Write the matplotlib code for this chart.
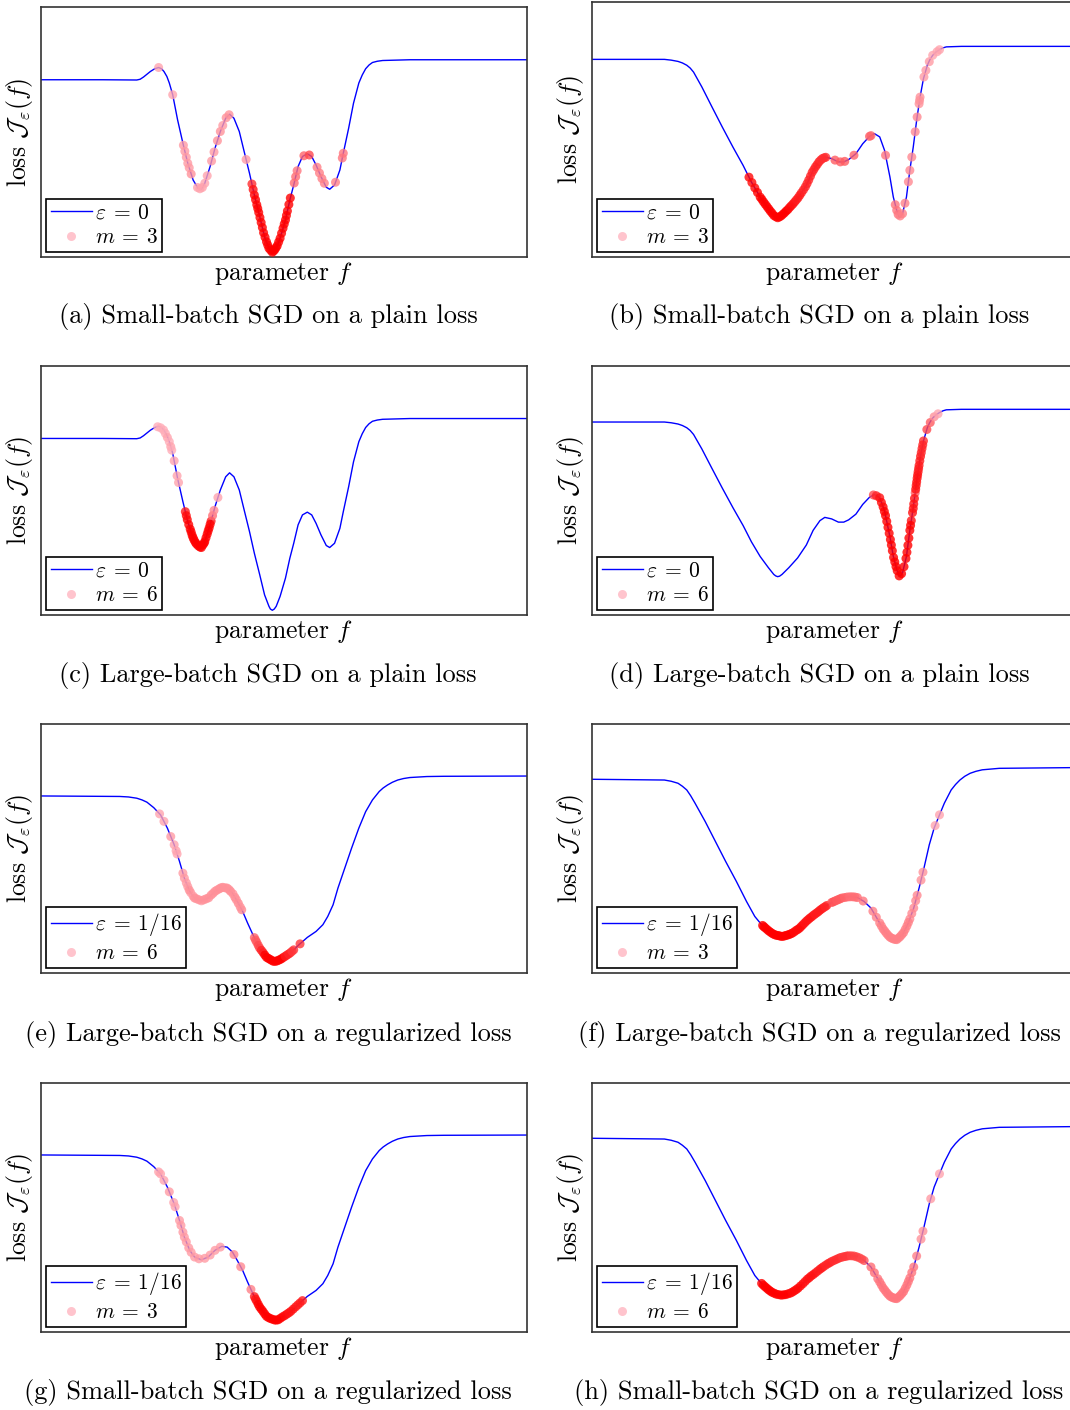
import matplotlib
matplotlib.use('Agg')
import matplotlib.pyplot as plt
from matplotlib.colors import LinearSegmentedColormap
from matplotlib.lines import Line2D

plt.rcParams['font.family'] = 'serif'
plt.rcParams['font.serif'] = ['cmr10']
plt.rcParams['mathtext.fontset'] = 'cm'
plt.rcParams['axes.formatter.use_mathtext'] = True

# ---- loss curves (parameter f on 0..10, loss scaled to 0..1) ----
# plain loss, first landscape (panels a, c)
plain1_f = [0, 1.27, 1.97, 2.04, 2.11, 2.18, 2.25, 2.34, 2.42, 2.48, 2.53, 2.59, 2.64, 2.71, 2.81, 2.92,
            3.02, 3.13, 3.23, 3.30, 3.37, 3.48, 3.58, 3.69, 3.80, 3.88, 3.97, 4.08, 4.18, 4.29, 4.39,
            4.50, 4.60, 4.69, 4.72, 4.76, 4.80, 4.84, 4.92, 5.03, 5.12, 5.20, 5.29, 5.38, 5.48, 5.57,
            5.66, 5.76, 5.87, 5.94, 6.04, 6.15, 6.22, 6.33, 6.43, 6.54, 6.61, 6.68, 6.75, 6.82, 6.92,
            7.03, 7.59, 10]
plain1_J = [0.709, 0.709, 0.708, 0.711, 0.720, 0.731, 0.742, 0.753, 0.758, 0.753, 0.742, 0.722, 0.696, 0.649,
            0.549, 0.455, 0.375, 0.308, 0.275, 0.271, 0.295, 0.362, 0.435, 0.502, 0.555, 0.571, 0.555, 0.502,
            0.422, 0.335, 0.248, 0.162, 0.081, 0.035, 0.024, 0.019, 0.024, 0.035, 0.075, 0.148, 0.228, 0.288,
            0.362, 0.402, 0.413, 0.402, 0.368, 0.322, 0.279, 0.271, 0.288, 0.348, 0.415, 0.515, 0.615, 0.696,
            0.728, 0.753, 0.768, 0.778, 0.783, 0.786, 0.789, 0.789]

# plain loss, second landscape (panels b, d)
plain2_f = [0, 1.49, 1.63, 1.77, 1.86, 1.95, 2.02, 2.09, 2.26, 2.47, 2.68, 2.90, 3.11, 3.28, 3.46, 3.63,
            3.74, 3.78, 3.82, 3.86, 3.91, 4.05, 4.23, 4.41, 4.55, 4.69, 4.79, 4.93, 5.07, 5.18, 5.28,
            5.43, 5.57, 5.71, 5.81, 5.92, 6.02, 6.13, 6.20, 6.27, 6.32, 6.35, 6.39, 6.47, 6.54, 6.61,
            6.68, 6.75, 6.82, 6.90, 6.95, 7.01, 7.08, 7.15, 7.22, 7.29, 7.60, 10]
plain2_J = [0.775, 0.775, 0.772, 0.767, 0.761, 0.752, 0.741, 0.725, 0.667, 0.588, 0.510, 0.431, 0.359, 0.294,
            0.235, 0.190, 0.163, 0.157, 0.154, 0.156, 0.163, 0.190, 0.229, 0.281, 0.340, 0.379, 0.392, 0.386,
            0.373, 0.373, 0.382, 0.405, 0.444, 0.473, 0.484, 0.471, 0.418, 0.314, 0.235, 0.183, 0.157, 0.158,
            0.170, 0.235, 0.340, 0.431, 0.536, 0.627, 0.699, 0.752, 0.773, 0.791, 0.804, 0.813, 0.820, 0.824,
            0.826, 0.826]

# regularized loss, first landscape (panels e, g)
reg1_f = [0, 1.62, 1.80, 1.97, 2.08, 2.18, 2.32, 2.46, 2.60, 2.74, 2.85, 2.95, 3.06, 3.16, 3.30, 3.44,
          3.58, 3.72, 3.83, 3.94, 4.04, 4.15, 4.25, 4.36, 4.50, 4.64, 4.78, 4.88, 5.02, 5.17, 5.31,
          5.48, 5.66, 5.80, 5.90, 6.01, 6.11, 6.25, 6.39, 6.54, 6.68, 6.82, 6.96, 7.04, 7.13, 7.23,
          7.34, 7.46, 7.59, 7.94, 8.29, 10]
reg1_J = [0.711, 0.709, 0.707, 0.702, 0.695, 0.686, 0.664, 0.635, 0.582, 0.515, 0.448, 0.381, 0.328, 0.301,
          0.290, 0.301, 0.328, 0.344, 0.341, 0.321, 0.287, 0.247, 0.201, 0.154, 0.100, 0.063, 0.047, 0.049,
          0.067, 0.087, 0.114, 0.143, 0.167, 0.194, 0.227, 0.274, 0.341, 0.421, 0.501, 0.582, 0.648, 0.695,
          0.729, 0.743, 0.755, 0.766, 0.775, 0.781, 0.785, 0.789, 0.790, 0.791]

# regularized loss, second landscape (panels f, h)
reg2_f = [0, 1.49, 1.63, 1.77, 1.86, 1.95, 2.03, 2.12, 2.33, 2.54, 2.75, 2.97, 3.18, 3.35, 3.46, 3.60,
          3.74, 3.91, 4.09, 4.27, 4.44, 4.62, 4.79, 4.97, 5.14, 5.32, 5.46, 5.60, 5.74, 5.88, 6.02,
          6.16, 6.27, 6.39, 6.51, 6.62, 6.73, 6.83, 6.94, 7.04, 7.15, 7.25, 7.39, 7.48, 7.57, 7.67,
          7.78, 7.90, 8.03, 8.38, 10]
reg2_J = [0.778, 0.775, 0.770, 0.762, 0.750, 0.735, 0.712, 0.682, 0.608, 0.528, 0.448, 0.368, 0.287, 0.227,
          0.201, 0.174, 0.154, 0.147, 0.156, 0.180, 0.214, 0.241, 0.267, 0.287, 0.301, 0.307, 0.303, 0.287,
          0.261, 0.214, 0.167, 0.138, 0.134, 0.154, 0.201, 0.261, 0.341, 0.421, 0.515, 0.582, 0.635, 0.682,
          0.735, 0.757, 0.775, 0.790, 0.802, 0.810, 0.816, 0.822, 0.825]

# ---- SGD iterates: position, loss, and shade (0 = pink, 1 = red) ----
a_f = [2.42, 2.71, 2.93, 2.96, 2.99, 3.02, 3.05, 3.09, 3.22, 3.27, 3.32, 3.37, 3.42, 3.51, 3.56, 3.63, 3.69,
       3.74, 3.81, 3.87, 4.22, 4.34, 4.39, 4.44, 4.48, 4.53, 4.58, 4.64, 4.69, 4.76, 4.81, 4.86, 4.92, 4.98,
       5.03, 5.07, 5.13, 5.21, 5.24, 5.27, 5.41, 5.52, 5.68, 5.73, 5.78, 5.83, 6.06, 6.20, 6.22,
       4.365, 4.415, 4.46, 4.505, 4.555, 4.61, 4.665, 4.725, 4.785, 4.835, 4.89, 4.95, 5.005, 5.05, 5.10]
a_J = [0.758, 0.649, 0.447, 0.423, 0.399, 0.375, 0.357, 0.332, 0.278, 0.273, 0.278, 0.295, 0.325, 0.384, 0.420,
       0.465, 0.502, 0.526, 0.557, 0.569, 0.390, 0.292, 0.248, 0.209, 0.178, 0.138, 0.097, 0.061, 0.035, 0.019,
       0.029, 0.045, 0.075, 0.115, 0.148, 0.184, 0.236, 0.296, 0.321, 0.345, 0.405, 0.408, 0.359, 0.336, 0.314,
       0.295, 0.299, 0.396, 0.415,
       0.270, 0.229, 0.194, 0.158, 0.118, 0.079, 0.048, 0.027, 0.024, 0.037, 0.060, 0.095, 0.132, 0.166, 0.210]
a_t = [0.1, 0.1, 0.15, 0.15, 0.15, 0.15, 0.15, 0.2, 0.1, 0.1, 0.1, 0.1, 0.1, 0.15, 0.15, 0.2, 0.2, 0.15, 0.2,
       0.2, 0.15, 0.75, 1, 1, 1, 1, 1, 1, 1, 1, 1, 1, 1, 1, 1, 1, 1, 0.4, 0.4, 0.35, 0.45, 0.6, 0.3, 0.3,
       0.3, 0.3, 0.3, 0.35, 0.35,
       0.9, 1, 1, 1, 1, 1, 1, 1, 1, 1, 1, 1, 1, 1, 1]

b_f = [3.23, 3.35, 3.46, 3.53, 3.60, 3.67, 3.74, 3.82, 3.89, 3.96, 4.03, 4.10, 4.17, 4.24, 4.31, 4.39, 4.46,
       4.53, 4.60, 4.67, 4.74, 4.81, 5.00, 5.11, 5.20, 5.39, 5.71, 5.74, 6.04, 6.24, 6.27, 6.30, 6.34, 6.39,
       6.44, 6.51, 6.54, 6.58, 6.65, 6.69, 6.73, 6.74, 6.75, 6.83, 6.87, 6.94, 7.01, 7.10, 7.15,
       3.29, 3.405, 3.495, 3.565, 3.635, 3.705, 3.78, 3.855, 3.925, 3.995, 4.065, 4.135, 4.205, 4.275,
       4.35, 4.425, 4.495, 4.565, 4.635, 4.705, 4.775]
b_J = [0.313, 0.271, 0.235, 0.216, 0.198, 0.180, 0.163, 0.154, 0.161, 0.173, 0.186, 0.201, 0.216, 0.232, 0.252,
       0.275, 0.302, 0.332, 0.354, 0.373, 0.386, 0.391, 0.380, 0.373, 0.375, 0.399, 0.473, 0.476, 0.399, 0.205,
       0.183, 0.167, 0.161, 0.170, 0.211, 0.295, 0.340, 0.392, 0.491, 0.549, 0.601, 0.614, 0.627, 0.706, 0.732,
       0.766, 0.791, 0.805, 0.813,
       0.292, 0.253, 0.226, 0.207, 0.189, 0.172, 0.158, 0.157, 0.167, 0.180, 0.194, 0.208, 0.224, 0.242,
       0.263, 0.288, 0.317, 0.343, 0.363, 0.380, 0.389]
b_t = [0.95, 0.95, 1, 1, 1, 1, 1, 1, 1, 1, 1, 0.9, 0.85, 0.85, 0.8, 0.8, 0.8, 0.8, 0.8, 0.8, 0.75, 0.75,
       0.5, 0.5, 0.5, 0.45, 0.45, 0.45, 0.35, 0.35, 0.35, 0.35, 0.3, 0.3, 0.3, 0.25, 0.25, 0.25, 0.25, 0.25,
       0.2, 0.2, 0.2, 0.15, 0.15, 0.15, 0.1, 0.1, 0.1,
       0.95, 1, 1, 1, 1, 1, 1, 1, 1, 1, 0.95, 0.9, 0.85, 0.85, 0.8, 0.8, 0.8, 0.8, 0.8, 0.75, 0.75]

c_f = [2.40, 2.46, 2.52, 2.56, 2.60, 2.64, 2.67, 2.69, 2.74, 2.80, 2.83, 2.97, 3.01, 3.04, 3.07, 3.11, 3.15,
       3.20, 3.27, 3.33, 3.37, 3.42, 3.46, 3.50, 3.53, 3.56, 3.64,
       2.99, 3.09, 3.13, 3.175, 3.235, 3.30, 3.355, 3.395, 3.44, 3.48]
c_J = [0.756, 0.752, 0.743, 0.729, 0.713, 0.696, 0.676, 0.662, 0.619, 0.559, 0.532, 0.415, 0.383, 0.363, 0.345,
       0.320, 0.301, 0.285, 0.273, 0.281, 0.295, 0.325, 0.350, 0.377, 0.399, 0.420, 0.472,
       0.399, 0.333, 0.310, 0.292, 0.278, 0.271, 0.288, 0.310, 0.338, 0.364]
c_t = [0.05, 0.05, 0.05, 0.05, 0.1, 0.05, 0.1, 0.05, 0.1, 0.1, 0.1, 0.85, 1, 1, 1, 1, 1, 1, 1, 1, 1, 1, 1,
       0.85, 0.4, 0.25, 0.1,
       0.95, 1, 1, 1, 1, 1, 1, 1, 1, 1]

d_f = [5.79, 5.85, 5.92, 5.99, 6.04, 6.065, 6.09, 6.115, 6.14, 6.16, 6.18, 6.205, 6.23, 6.255, 6.28, 6.32,
       6.37, 6.42, 6.46, 6.48, 6.50, 6.52, 6.54, 6.57, 6.595, 6.62, 6.65, 6.67, 6.69, 6.71, 6.73, 6.76, 6.79,
       6.82, 6.89, 6.96, 7.04, 7.12,
       5.955, 6.015, 6.555, 6.61, 6.635, 6.66, 6.68, 6.70, 6.72, 6.745, 6.775, 6.805]
d_J = [0.482, 0.479, 0.471, 0.434, 0.399, 0.376, 0.352, 0.328, 0.303, 0.281, 0.258, 0.231, 0.213, 0.194, 0.178,
       0.157, 0.166, 0.194, 0.227, 0.252, 0.280, 0.309, 0.340, 0.379, 0.411, 0.446, 0.491, 0.520, 0.549, 0.575,
       0.601, 0.637, 0.668, 0.699, 0.745, 0.773, 0.796, 0.808,
       0.452, 0.416, 0.360, 0.428, 0.468, 0.505, 0.534, 0.562, 0.588, 0.619, 0.652, 0.683]
d_t = [0.6, 0.8, 0.9, 1, 1, 1, 1, 1, 1, 1, 1, 1, 1, 1, 1, 1, 1, 1, 1, 1, 1, 1, 1, 0.9, 0.9, 0.9, 0.5, 0.9,
       0.9, 0.85, 0.85, 0.85, 0.8, 0.75, 0.6, 0.5, 0.2, 0.1,
       0.95, 1, 1, 0.9, 0.9, 0.9, 0.9, 0.9, 0.85, 0.85, 0.8, 0.8]

e_f = [2.44, 2.53, 2.67, 2.74, 2.78, 2.80, 2.92, 2.95, 2.99, 3.02, 3.08, 3.13, 3.20, 3.30, 3.40, 3.50, 3.58,
       3.67, 3.74, 3.83, 3.90, 3.99, 4.06, 4.13, 4.39, 4.44, 4.50, 4.57, 4.64, 4.71, 4.78, 4.85, 4.92, 4.99,
       5.06, 5.13, 5.20, 5.33, 3.05, 3.16, 3.25, 3.35, 3.45, 3.54, 3.62, 3.70, 3.79, 3.87, 3.95, 4.02, 4.10,
       4.415, 4.47, 4.535, 4.605, 4.675, 4.745, 4.815, 4.885, 4.955, 5.025, 5.095, 5.165]
e_J = [0.639, 0.609, 0.548, 0.515, 0.491, 0.478, 0.401, 0.381, 0.362, 0.347, 0.323, 0.309, 0.298, 0.290, 0.298,
       0.313, 0.328, 0.338, 0.344, 0.341, 0.328, 0.304, 0.280, 0.254, 0.142, 0.123, 0.100, 0.082, 0.063, 0.055,
       0.047, 0.048, 0.054, 0.063, 0.072, 0.081, 0.093, 0.117, 0.333, 0.301, 0.294, 0.294, 0.302, 0.320, 0.333,
       0.342, 0.342, 0.335, 0.318, 0.294, 0.265,
       0.132, 0.111, 0.091, 0.072, 0.059, 0.051, 0.047, 0.051, 0.058, 0.067, 0.076, 0.087]
e_t = [0.1, 0.1, 0.15, 0.1, 0.1, 0.1, 0.15, 0.15, 0.15, 0.15, 0.15, 0.15, 0.15, 0.15, 0.2, 0.2, 0.2, 0.25,
       0.25, 0.25, 0.25, 0.25, 0.25, 0.25, 0.45, 0.5, 0.7, 0.9, 1, 1, 1, 1, 1, 0.9, 0.8, 0.75, 0.7, 0.7,
       0.2, 0.2, 0.2, 0.2, 0.2, 0.2, 0.2, 0.2, 0.2, 0.2, 0.2, 0.2, 0.2,
       0.5, 0.6, 0.8, 1, 1, 1, 1, 1, 1, 0.85, 0.8, 0.7]

f_f = [3.51, 3.56, 3.63, 3.70, 3.77, 3.84, 3.91, 3.98, 4.05, 4.12, 4.20, 4.27, 4.34, 4.41, 4.48, 4.55, 4.62,
       4.69, 4.76, 4.83, 4.93, 5.00, 5.07, 5.14, 5.25, 5.36, 5.46, 5.58, 5.78, 5.85, 5.92, 5.99, 6.06, 6.13,
       6.20, 6.27, 6.34, 6.41, 6.48, 6.54, 6.58, 6.62, 6.66, 6.69, 6.77, 6.81, 7.06, 7.15,
       3.535, 3.595, 3.665, 3.735, 3.805, 3.875, 3.945, 4.015, 4.085, 4.16, 4.235, 4.305, 4.375, 4.445,
       4.515, 4.585, 4.655, 4.725, 4.795,
       4.965, 5.035, 5.105, 5.195, 5.305, 5.41, 5.955, 6.025, 6.095, 6.165, 6.235, 6.305, 6.375, 6.445, 6.51]
f_J = [0.191, 0.182, 0.170, 0.160, 0.153, 0.150, 0.147, 0.150, 0.154, 0.160, 0.171, 0.180, 0.194, 0.208, 0.220,
       0.231, 0.241, 0.252, 0.262, 0.271, 0.283, 0.289, 0.295, 0.301, 0.305, 0.306, 0.303, 0.289, 0.248, 0.224,
       0.201, 0.177, 0.159, 0.144, 0.137, 0.134, 0.146, 0.162, 0.189, 0.217, 0.239, 0.261, 0.290, 0.312, 0.373,
       0.405, 0.592, 0.635,
       0.186, 0.176, 0.165, 0.156, 0.151, 0.148, 0.148, 0.152, 0.157, 0.165, 0.175, 0.187, 0.201, 0.214,
       0.225, 0.236, 0.246, 0.257, 0.266,
       0.286, 0.292, 0.298, 0.303, 0.306, 0.305, 0.189, 0.168, 0.151, 0.140, 0.135, 0.140, 0.154, 0.175, 0.203]
f_t = [1, 1, 1, 1, 1, 1, 1, 1, 1, 0.95, 0.95, 0.95, 0.9, 0.9, 0.9, 0.85, 0.85, 0.85, 0.8, 0.8, 0.55, 0.5,
       0.5, 0.45, 0.4, 0.4, 0.4, 0.35, 0.3, 0.3, 0.3, 0.3, 0.3, 0.3, 0.3, 0.3, 0.3, 0.3, 0.3, 0.25, 0.25,
       0.25, 0.25, 0.25, 0.2, 0.2, 0.1, 0.1,
       1, 1, 1, 1, 1, 1, 1, 1, 1, 0.95, 0.95, 0.95, 0.9, 0.9, 0.9, 0.85, 0.85, 0.85, 0.8,
       0.55, 0.5, 0.5, 0.45, 0.4, 0.4, 0.3, 0.3, 0.3, 0.3, 0.3, 0.3, 0.3, 0.3, 0.3]

g_f = [2.42, 2.46, 2.53, 2.64, 2.73, 2.76, 2.85, 2.88, 2.92, 2.95, 2.99, 3.04, 3.09, 3.16, 3.25, 3.37, 3.48,
       3.58, 3.69, 3.97, 4.11, 4.32, 4.39, 4.44, 4.50, 4.57, 4.64, 4.72, 4.81, 4.88, 4.97, 5.06, 5.14, 5.24,
       5.33, 5.38,
       4.415, 4.47, 4.535, 4.605, 4.68, 4.765, 4.845, 4.925, 5.015, 5.10, 5.19, 5.285]
g_J = [0.643, 0.635, 0.609, 0.563, 0.520, 0.503, 0.448, 0.428, 0.401, 0.381, 0.362, 0.338, 0.320, 0.301, 0.294,
       0.296, 0.309, 0.328, 0.341, 0.311, 0.262, 0.171, 0.142, 0.123, 0.100, 0.082, 0.063, 0.054, 0.048, 0.049,
       0.061, 0.072, 0.083, 0.101, 0.117, 0.126,
       0.132, 0.111, 0.091, 0.072, 0.058, 0.051, 0.048, 0.055, 0.066, 0.077, 0.092, 0.109]
g_t = [0.1, 0.1, 0.1, 0.15, 0.1, 0.1, 0.15, 0.15, 0.15, 0.15, 0.15, 0.15, 0.15, 0.15, 0.15, 0.15, 0.15, 0.15,
       0.15, 0.25, 0.25, 0.3, 0.85, 0.9, 1, 1, 1, 1, 1, 1, 0.95, 0.9, 0.9, 0.85, 0.85, 0.85,
       0.9, 1, 1, 1, 1, 1, 1, 1, 0.95, 0.9, 0.9, 0.85]

h_f = [3.49, 3.56, 3.63, 3.70, 3.79, 3.89, 3.98, 4.08, 4.16, 4.24, 4.34, 4.43, 4.51, 4.60, 4.69, 4.76, 4.85,
       4.93, 5.02, 5.11, 5.20, 5.28, 5.39, 5.50, 5.60, 5.74, 5.81, 5.88, 5.92, 5.99, 6.06, 6.13, 6.20, 6.27,
       6.34, 6.41, 6.48, 6.54, 6.58, 6.62, 6.68, 6.77, 6.81, 6.97, 7.15,
       3.525, 3.595, 3.665, 3.745, 3.84, 3.935, 4.03, 4.12, 4.20, 4.29, 4.385, 4.47, 4.555, 4.645, 4.725,
       4.805, 4.89, 4.975, 5.065, 5.155, 5.24, 5.335, 5.445, 5.55,
       5.955, 6.025, 6.095, 6.165, 6.235, 6.305, 6.375, 6.445, 6.51]
h_J = [0.195, 0.182, 0.170, 0.160, 0.152, 0.148, 0.150, 0.156, 0.165, 0.176, 0.194, 0.212, 0.225, 0.238, 0.252,
       0.262, 0.274, 0.283, 0.291, 0.299, 0.303, 0.306, 0.305, 0.298, 0.287, 0.261, 0.238, 0.214, 0.201, 0.177,
       0.159, 0.144, 0.137, 0.134, 0.146, 0.162, 0.189, 0.217, 0.239, 0.261, 0.305, 0.373, 0.405, 0.535, 0.635,
       0.188, 0.176, 0.165, 0.156, 0.150, 0.149, 0.153, 0.160, 0.170, 0.185, 0.203, 0.218, 0.231, 0.245, 0.257,
       0.268, 0.278, 0.287, 0.295, 0.301, 0.305, 0.306, 0.302, 0.293,
       0.189, 0.168, 0.151, 0.140, 0.135, 0.140, 0.154, 0.175, 0.203]
h_t = [1, 1, 1, 1, 1, 1, 1, 0.95, 0.95, 0.95, 0.9, 0.9, 0.9, 0.85, 0.85, 0.8, 0.8, 0.75, 0.75, 0.7, 0.7,
       0.65, 0.65, 0.6, 0.55, 0.4, 0.4, 0.35, 0.35, 0.35, 0.35, 0.35, 0.35, 0.35, 0.35, 0.35, 0.35, 0.35, 0.35,
       0.35, 0.3, 0.2, 0.2, 0.15, 0.1,
       1, 1, 1, 1, 1, 1, 1, 0.95, 0.95, 0.95, 0.9, 0.9, 0.9, 0.85, 0.85, 0.8, 0.8, 0.75, 0.75, 0.7, 0.7,
       0.65, 0.65, 0.6,
       0.35, 0.35, 0.35, 0.35, 0.35, 0.35, 0.35, 0.35, 0.35]

eps_labels = [r'$\varepsilon \:=\: 0$'] * 4 + [r'$\varepsilon \:=\: 1/16$'] * 4
m_labels = [r'$m \:=\: 3$', r'$m \:=\: 3$', r'$m \:=\: 6$', r'$m \:=\: 6$',
            r'$m \:=\: 6$', r'$m \:=\: 3$', r'$m \:=\: 3$', r'$m \:=\: 6$']
captions = ['(a) Small-batch SGD on a plain loss', '(b) Small-batch SGD on a plain loss',
            '(c) Large-batch SGD on a plain loss', '(d) Large-batch SGD on a plain loss',
            '(e) Large-batch SGD on a regularized loss', '(f) Large-batch SGD on a regularized loss',
            '(g) Small-batch SGD on a regularized loss', '(h) Small-batch SGD on a regularized loss']

curves = [(plain1_f, plain1_J), (plain2_f, plain2_J), (plain1_f, plain1_J), (plain2_f, plain2_J),
          (reg1_f, reg1_J), (reg2_f, reg2_J), (reg1_f, reg1_J), (reg2_f, reg2_J)]
iterates = [(a_f, a_J, a_t), (b_f, b_J, b_t), (c_f, c_J, c_t), (d_f, d_J, d_t),
            (e_f, e_J, e_t), (f_f, f_J, f_t), (g_f, g_J, g_t), (h_f, h_J, h_t)]

pink_red = LinearSegmentedColormap.from_list('pink_red', ['#ffb6c1', '#ff0000'])

W, H = 1070, 1410
fig = plt.figure(figsize=(W / 100, H / 100), dpi=100)

# axes boxes in pixels
col_x = [(41, 527), (592, 1078)]
row_y = [(7, 257), (366, 615), (724, 973), (1083, 1332)]
cap_y = [317, 675, 1034, 1392]
cap_x = [268, 819]

for i in range(8):
    r, c = divmod(i, 2)
    x0, x1 = col_x[c]
    y0, y1 = row_y[r]
    if i == 1:
        y0 = 2
    ax = fig.add_axes([x0 / W, 1 - y1 / H, (x1 - x0) / W, (y1 - y0) / H])
    cf, cJ = curves[i]
    sf, sJ, st = iterates[i]
    ax.plot(cf, cJ, color='blue', lw=1.0, zorder=2)
    ax.scatter(sf, sJ, c=st, cmap=pink_red, vmin=0, vmax=1, s=42, alpha=0.8,
               linewidths=0, zorder=3)
    ax.set_xlim(0, 10)
    ax.set_ylim(0, 1)
    ax.set_xticks([])
    ax.set_yticks([])
    for sp in ax.spines.values():
        sp.set_color('#333333')
        sp.set_linewidth(1.2)
    ax.set_xlabel(r'parameter $f$', fontsize=18.5, labelpad=2)
    ax.set_ylabel(r'loss $\mathcal{J}_\varepsilon(f)$', fontsize=18.5, labelpad=4)

    handles = [Line2D([], [], color='blue', lw=1.0),
               Line2D([], [], ls='none', marker='o', ms=6.5, mfc='#ffb6c1', mec='none', alpha=0.8)]
    leg = ax.legend(handles, [eps_labels[i], m_labels[i]], loc='lower left', fontsize=15.5,
                    fancybox=False, framealpha=1, edgecolor='black', borderpad=0.2,
                    labelspacing=0.25, handlelength=1.9, handletextpad=0.15, borderaxespad=0.25)
    leg.get_frame().set_linewidth(1.2)

    fig.text(cap_x[c] / W, 1 - cap_y[r] / H, captions[i], ha='center', va='center', fontsize=19)

fig.savefig('out.png', dpi=100)
